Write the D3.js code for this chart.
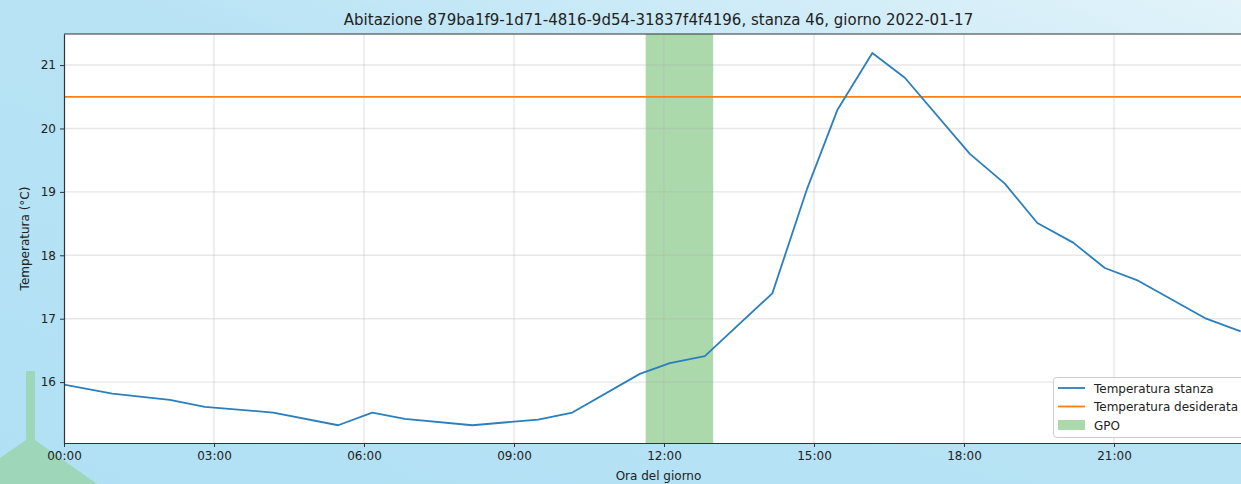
<!DOCTYPE html>
<html><head><meta charset="utf-8">
<script src="https://cdn.jsdelivr.net/npm/d3@7"></script>
<style>html,body{margin:0;padding:0;overflow:hidden;}svg{display:block;font-family:"DejaVu Sans",sans-serif;}</style>
</head><body>
<svg id="c" width="1241" height="484"></svg>
<script>
const times = ["00:00","00:58","02:07","02:49","04:11","05:29","06:10","06:49","08:10","09:29","10:10","11:31","12:07","12:49","14:10","14:52","15:28","16:10","16:49","18:07","18:49","19:28","20:11","20:49","21:29","22:49","23:32"];
const roomTemp = [15.96,15.82,15.72,15.61,15.52,15.32,15.52,15.42,15.32,15.41,15.52,16.13,16.30,16.41,17.40,19.06,20.29,21.19,20.80,19.60,19.13,18.51,18.20,17.80,17.60,17.01,16.80];
const desiredTemp = 20.5;
const gpoStart = "11:38", gpoEnd = "12:59";
const xTickLabels = ["00:00","03:00","06:00","09:00","12:00","15:00","18:00","21:00"];
const yTicks = [16,17,18,19,20,21];
const title = "Abitazione 879ba1f9-1d71-4816-9d54-31837f4f4196, stanza 46, giorno 2022-01-17";
const legendLabels = ["Temperatura stanza","Temperatura desiderata","GPO"];

const toH = s => { const [h,m] = s.split(":").map(Number); return h + m/60; };
const svg = d3.select("#c");
const W = 1241, H = 484;
const L = 64, R = 1253, T = 34, B = 443;

const defs = svg.append("defs");
const g1 = defs.append("linearGradient").attr("id","bg").attr("x1","0").attr("y1","1").attr("x2","1").attr("y2","0");
g1.append("stop").attr("offset","0").attr("stop-color","#b1e0f4");
g1.append("stop").attr("offset","0.55").attr("stop-color","#b8e3f5");
g1.append("stop").attr("offset","1").attr("stop-color","#e2f3fa");
defs.append("clipPath").attr("id","clip").append("rect").attr("x",L).attr("y",T).attr("width",R-L).attr("height",B-T);

svg.append("rect").attr("width",W).attr("height",H).attr("fill","url(#bg)");
// decorative shape
svg.append("path").attr("d","M26,371 L35,371 L35,440 L97,484 L0,484 L0,458 L26,440 Z").attr("fill","#9ed6b9");

const x = d3.scaleLinear().domain([0, (R-L)/50]).range([L, R]);
const y = d3.scaleLinear().domain([15.04, 21.49]).range([B, T]);

svg.append("rect").attr("x",L).attr("y",T).attr("width",R-L).attr("height",B-T).attr("fill","#fff");

const plot = svg.append("g").attr("clip-path","url(#clip)");
plot.append("rect").attr("x",x(toH(gpoStart))).attr("y",T).attr("width",x(toH(gpoEnd))-x(toH(gpoStart))).attr("height",B-T)
  .attr("fill","#2ca02c").attr("fill-opacity",0.4);

const xTickVals = xTickLabels.map(toH);
// grid
plot.selectAll(".gx").data(xTickVals).join("line").attr("x1",d=>x(d)).attr("x2",d=>x(d)).attr("y1",T).attr("y2",B)
  .attr("stroke","#b0b0b0").attr("stroke-opacity",0.3).attr("stroke-width",1.4);
plot.selectAll(".gy").data(yTicks).join("line").attr("x1",L).attr("x2",R).attr("y1",d=>y(d)).attr("y2",d=>y(d))
  .attr("stroke","#b0b0b0").attr("stroke-opacity",0.3).attr("stroke-width",1.4);

plot.append("line").attr("x1",L).attr("x2",R).attr("y1",y(desiredTemp)).attr("y2",y(desiredTemp))
  .attr("stroke","#ff7f0e").attr("stroke-width",1.8);
const line = d3.line().x((d,i)=>x(toH(times[i]))).y(d=>y(d));
plot.append("path").datum(roomTemp).attr("d",line).attr("fill","none").attr("stroke","#2a7fbc").attr("stroke-width",1.8).attr("stroke-linejoin","round");

// axes
const xAxis = d3.axisBottom(x).tickValues(xTickVals).tickFormat((d,i)=>xTickLabels[i]).tickSizeInner(4).tickSizeOuter(0).tickPadding(4);
const yAxis = d3.axisLeft(y).tickValues(yTicks).tickFormat(d3.format("d")).tickSizeInner(4).tickSizeOuter(0).tickPadding(4);
const gx = svg.append("g").attr("transform",`translate(0,${B})`).call(xAxis);
const gy = svg.append("g").attr("transform",`translate(${L},0)`).call(yAxis);
[gx,gy].forEach(g=>{
  g.selectAll("path").attr("stroke","#333").attr("stroke-width",1.2);
  g.selectAll("line").attr("stroke","#333");
  g.selectAll("text").attr("fill","#222").style("font-size","12px").style("font-family","DejaVu Sans");
});
svg.append("line").attr("x1",L).attr("x2",R).attr("y1",T).attr("y2",T).attr("stroke","#333").attr("stroke-width",1.2);

svg.append("text").attr("x",(L+R)/2).attr("y",25).attr("text-anchor","middle").attr("fill","#222").style("font-size","15px").text(title);
svg.append("text").attr("x",(L+R)/2).attr("y",480).attr("text-anchor","middle").attr("fill","#222").style("font-size","12px").text("Ora del giorno");
svg.append("text").attr("transform",`translate(29,${(T+B)/2}) rotate(-90)`).attr("text-anchor","middle").attr("fill","#222").style("font-size","12px").text("Temperatura (°C)");

// legend
const lg = svg.append("g");
lg.append("rect").attr("x",1053.5).attr("y",377.5).attr("width",240).attr("height",60).attr("rx",3)
  .attr("fill","#fff").attr("fill-opacity",0.8).attr("stroke","#ccc");
const legColors = ["#2a7fbc","#ff7f0e"];
legendLabels.forEach((lab,i)=>{
  const yy = 388 + i*18.5;
  if (i < 2) lg.append("line").attr("x1",1058).attr("x2",1085).attr("y1",yy).attr("y2",yy).attr("stroke",legColors[i]).attr("stroke-width",1.8);
  else lg.append("rect").attr("x",1058).attr("y",yy-5).attr("width",27).attr("height",10).attr("fill","#2ca02c").attr("fill-opacity",0.4);
  lg.append("text").attr("x",1094).attr("y",yy+4.5).attr("fill","#222").style("font-size","12px").text(lab);
});
</script>
</body></html>
